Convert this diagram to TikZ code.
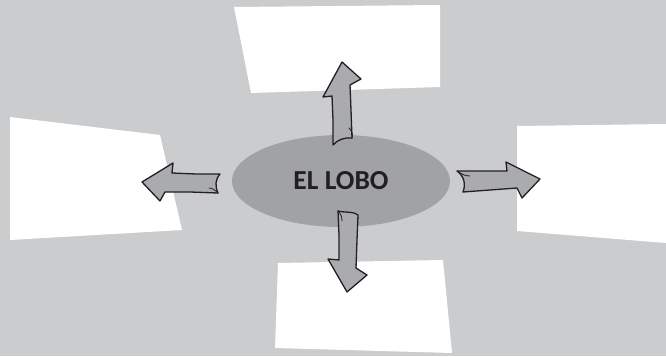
\documentclass[tikz,border=0pt]{standalone}
\usepackage{fontspec}
\setsansfont{Carlito}
\usetikzlibrary{shapes.geometric}
\definecolor{backgray}{RGB}{203,204,206}
\definecolor{ovalgray}{RGB}{161,162,165}
\definecolor{arrowgray}{RGB}{170,171,174}
\definecolor{inkline}{RGB}{35,31,32}

\begin{document}
\begin{tikzpicture}[
  x=1pt, y=-1pt,
  every node/.style={font=\sffamily},
  box/.style={fill=white},
  bigarrow/.style={draw=inkline, fill=arrowgray, line width=1.3pt, line join=round},
  fold/.style={draw=inkline, line width=0.8pt, line cap=round}
]

% ── Background ──
\fill[backgray] (0,0) rectangle (666,356);
\useasboundingbox (0,0) rectangle (666,356);

% ── Answer boxes ──
\fill[box] (234,7) -- (440,5) -- (440,87) -- (251,93) -- cycle;
\fill[box] (10,117) -- (160,135) -- (182,230) -- (10,240) -- cycle;
\fill[box] (517,126) -- (666,124) -- (666,243) -- (517,231) -- cycle;
\fill[box] (278,263) -- (443,260) -- (452,353) -- (275,348) -- cycle;

% ── Centre ──
\node[ellipse, fill=ovalgray, minimum width=218pt, minimum height=92pt,
      font=\sffamily\bfseries\fontsize{27.5}{27.5}\selectfont, text=inkline] (lobo) at (341,181)
  {EL LOBO};

% ── Arrows ──
% up
\draw[bigarrow] (333,145) -- (333,120) -- (332,96) -- (323,97) -- (342,62)
  -- (361,79) -- (350,85) -- (351,110) -- (352,138)
  .. controls (345,137) and (337,140) .. cycle;
\draw[fold] (349,128) .. controls (352,131) and (353,134) .. (352,138);
% down
\draw[bigarrow] (338,211) .. controls (346,213) and (353,211) .. (358,215)
  -- (357,240) -- (356,268) -- (367,275) -- (347,292) -- (328,259)
  -- (339,260) -- (339,235) -- cycle;
\draw[fold] (338,211) .. controls (341,214) and (342,217) .. (342,221);
% left
\draw[bigarrow] (220,174) -- (196,174) -- (172,173) -- (173,163) -- (142,182)
  -- (160,201) -- (165,192) -- (190,192) -- (218,193)
  .. controls (215,186) and (215,180) .. cycle;
\draw[fold] (218,193) .. controls (215,190) and (212,188) .. (209,188);
% right
\draw[bigarrow] (457,171) -- (482,171) -- (507,171) -- (506,162) -- (540,179)
  -- (522,198) -- (517,188) -- (490,190) -- (463,192)
  .. controls (466,184) and (464,176) .. cycle;
\draw[fold] (457,171) .. controls (461,174) and (465,176) .. (470,176);

\end{tikzpicture}
\end{document}
